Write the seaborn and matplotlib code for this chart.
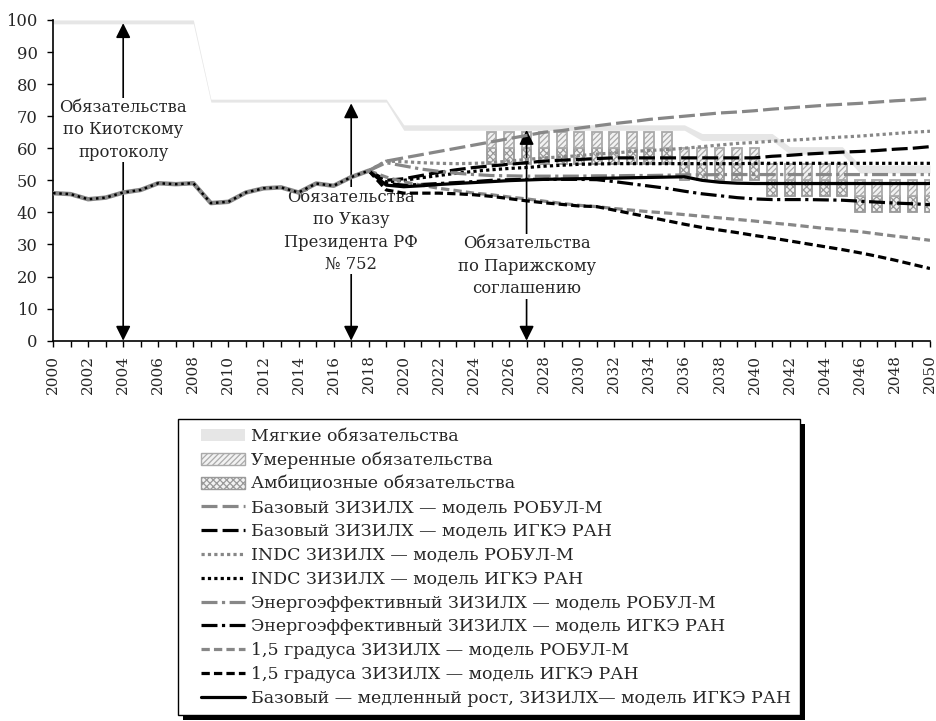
import numpy as np
import pandas as pd
import matplotlib
matplotlib.use("Agg")
import matplotlib.pyplot as plt
import seaborn as sns
from matplotlib.patches import Patch, Rectangle
from matplotlib.lines import Line2D
from matplotlib.legend_handler import HandlerLine2D, HandlerPatch

# ---- data ----
hist_years = list(range(2000, 2019))
hist_values = [46.0, 45.7, 44.1, 44.6, 46.2, 47.0, 49.1, 48.8, 49.1, 42.9,
               43.3, 46.2, 47.5, 47.8, 46.2, 49.0, 48.3, 51.0, 53.0]

proj_years = list(range(2018, 2051))
base_robul = [53, 56, 57, 58, 59, 60, 61, 62, 63, 64, 65, 65.5, 66.3, 67, 67.7, 68.3, 69,
              69.5, 70, 70.5, 71, 71.3, 71.7, 72.2, 72.6, 73, 73.4, 73.7, 74, 74.4, 74.8, 75.1, 75.5]
base_igke = [53, 50, 50.5, 51.5, 52.5, 53.3, 54, 54.5, 55, 55.5, 56, 56.3, 56.5, 56.8, 57, 57, 57,
             57, 57, 57, 57, 57, 57, 57.5, 57.8, 58.2, 58.5, 58.8, 59, 59.3, 59.7, 60, 60.5]
indc_robul = [53, 56, 55.8, 55.5, 55.3, 55.2, 55.3, 55.5, 56, 56.5, 57, 57.3, 57.7, 58.2, 58.5, 59, 59.3,
              59.6, 60, 60.5, 61, 61.5, 61.8, 62.2, 62.5, 62.8, 63.2, 63.5, 63.8, 64.2, 64.6, 65, 65.3]
indc_igke = [53, 49.5, 50, 50.8, 51.5, 52.2, 52.8, 53.3, 53.7, 54, 54.4, 54.7, 55, 55.1, 55.2, 55.2, 55.2,
             55.2, 55.2, 55.2, 55.2, 55.2, 55.3, 55.3, 55.3, 55.3, 55.3, 55.3, 55.3, 55.3, 55.3, 55.3, 55.3]
eff_robul = [53, 55.5, 54.5, 53.5, 52.8, 52.2, 51.8, 51.5, 51.4, 51.3, 51.3, 51.3, 51.3, 51.4, 51.4, 51.5, 51.5,
             51.6, 51.7, 51.7, 51.8, 51.8, 51.8, 51.8, 51.8, 51.8, 51.8, 51.8, 51.8, 51.8, 51.8, 51.8, 51.8]
eff_igke = [53, 49, 48.5, 48.7, 49, 49.3, 49.6, 50, 50.2, 50.3, 50.3, 50.3, 50.3, 50.2, 49.6, 48.9, 48.2,
            47.5, 46.6, 45.8, 45.2, 44.6, 44.2, 44.0, 44.0, 44.0, 43.9, 43.8, 43.5, 43.2, 42.9, 42.7, 42.4]
deg15_robul = [53, 51, 49.5, 48.5, 47.5, 46.8, 46, 45.5, 44.8, 44.2, 43.5, 42.8, 42.2, 41.8, 41.2, 40.7, 40.2,
               39.8, 39.3, 38.8, 38.3, 37.8, 37.3, 36.7, 36.2, 35.6, 35, 34.5, 34, 33.3, 32.6, 32, 31.3]
deg15_igke = [53, 47, 46, 46, 46, 45.8, 45.5, 45, 44.3, 43.6, 43, 42.5, 42, 41.8, 40.7, 39.6, 38.5,
              37.4, 36.3, 35.3, 34.5, 33.7, 32.8, 32, 31.1, 30.2, 29.3, 28.4, 27.4, 26.3, 25.1, 23.8, 22.5]
slow_igke = [53, 48.5, 48, 48.3, 48.7, 49, 49.3, 49.6, 49.9, 50.1, 50.3, 50.4, 50.5, 50.6, 50.7, 50.8, 50.9,
             51, 51.1, 50, 49.4, 49.1, 49, 49, 49, 49, 49, 49, 49, 49, 49, 49, 49]

# soft commitments band (low / high), every year 2000-2050
soft_years = list(range(2000, 2051))
soft_low = [98.8] * 9 + [74.4] * 11 + [65.6] * 17 + [62.4] * 5 + [58.2] * 4 + [52.3] * 5
soft_high = [100] * 9 + [75.3] * 11 + [67.3] * 17 + [64.6] * 5 + [60.5] * 4 + [54.8] * 5

# moderate / ambitious commitment bars
bar_years = list(range(2025, 2051))
amb_low = [55, 55, 55, 55, 55, 55, 55, 55, 55, 55, 55, 50, 50, 50, 50, 50,
           45, 45, 45, 45, 45, 40, 40, 40, 40, 40]
amb_high = [60, 60, 60, 60, 60, 60, 60, 60, 60, 60, 60, 55, 55, 55, 55, 55,
            50, 50, 50, 50, 50, 45, 45, 45, 45, 45]
mod_high = [65, 65, 65, 65, 65, 65, 65, 65, 65, 65, 65, 60, 60, 60, 60, 60,
            55, 55, 55, 55, 55, 50, 50, 50, 50, 50]

GRAY = "#878787"
series = [
    ("Базовый ЗИЗИЛХ — модель РОБУЛ-М", base_robul, GRAY, (0, (5, 1.6))),
    ("Базовый ЗИЗИЛХ — модель ИГКЭ РАН", base_igke, "black", (0, (5, 1.6))),
    ("INDC ЗИЗИЛХ — модель РОБУЛ-М", indc_robul, GRAY, (0, (1, 1))),
    ("INDC ЗИЗИЛХ — модель ИГКЭ РАН", indc_igke, "black", (0, (1, 1))),
    ("Энергоэффективный ЗИЗИЛХ — модель РОБУЛ-М", eff_robul, GRAY, (0, (5, 1.4, 1, 1.4))),
    ("Энергоэффективный ЗИЗИЛХ — модель ИГКЭ РАН", eff_igke, "black", (0, (5, 1.4, 1, 1.4))),
    ("1,5 градуса ЗИЗИЛХ — модель РОБУЛ-М", deg15_robul, GRAY, (0, (2.6, 1.3))),
    ("1,5 градуса ЗИЗИЛХ — модель ИГКЭ РАН", deg15_igke, "black", (0, (2.6, 1.3))),
    ("Базовый — медленный рост, ЗИЗИЛХ— модель ИГКЭ РАН", slow_igke, "black", "-"),
]

sns.set_style("white")
plt.rcParams["font.family"] = ["DejaVu Serif"]
plt.rcParams["hatch.linewidth"] = 0.9

fig = plt.figure(figsize=(9.37, 7.21), dpi=100)
ax = fig.add_axes([0.0566, 0.5275, 0.9359, 0.4448])

# soft commitments
ax.fill_between(soft_years, soft_low, soft_high, color="#e6e6e6", lw=0, zorder=1)

# bars: ambitious (cross-hatched) below, moderate (hatched) above
amb_h = np.array(amb_high) - np.array(amb_low)
mod_h = np.array(mod_high) - np.array(amb_high)
ax.bar(bar_years, amb_h, bottom=amb_low, width=0.56, color="#f2f2f2",
       edgecolor="#999999", hatch="xxxxx", lw=1.3, zorder=2)
ax.bar(bar_years, mod_h, bottom=amb_high, width=0.56, color="#f2f2f2",
       edgecolor="#aaaaaa", hatch="//////", lw=1.3, zorder=2)

# scenario lines
for name, vals, col, ls in series:
    sns.lineplot(x=proj_years, y=vals, color=col, linestyle=ls, linewidth=2.3,
                 ax=ax, legend=False, zorder=7)

# history: overlapping gray and black dotted lines
sns.lineplot(x=hist_years, y=hist_values, color=GRAY, linewidth=3.2, ax=ax, legend=False, zorder=7)
sns.lineplot(x=hist_years, y=hist_values, color="black", linestyle=(0, (1, 1.5)),
             linewidth=1.8, ax=ax, legend=False, zorder=8)

# commitment arrows
arrows = [
    (2004, 99, 65.7, "Обязательства\nпо Киотскому\nпротоколу"),
    (2017, 74, 34.2, "Обязательства\nпо Указу\nПрезидента РФ\n№ 752"),
    (2027, 65.7, 23.2, "Обязательства\nпо Парижскому\nсоглашению"),
]
for x, top, ty, label in arrows:
    ax.annotate("", xy=(x, top), xytext=(x, 0),
                arrowprops=dict(arrowstyle="<|-|>", color="black", lw=1.2,
                                mutation_scale=22, shrinkA=0, shrinkB=0), zorder=5)
    ax.text(x, ty, label, ha="center", va="center", fontsize=11.8, linespacing=1.42,
            bbox=dict(facecolor="white", edgecolor="none", pad=1), zorder=6)

ax.set_xlim(2000, 2050)
ax.set_ylim(0, 100)
ax.set_yticks(range(0, 101, 10))
ax.set_xticks(range(2000, 2051, 2))
ax.set_xticks(range(2000, 2051), minor=True)
ax.tick_params(axis="x", which="both", direction="out", length=4, width=1, color="black",
               bottom=True, labelrotation=90, labelsize=11, pad=6)
ax.tick_params(axis="y", direction="out", length=4, width=1, color="black", left=True,
               labelsize=11.8, pad=7)
ax.set_xlabel("")
ax.set_ylabel("")
sns.despine(ax=ax)
for sp in ["left", "bottom"]:
    ax.spines[sp].set_color("black")
    ax.spines[sp].set_linewidth(1.2)

# legend
handles = [
    Patch(facecolor="#e6e6e6", edgecolor="none", label="Мягкие обязательства"),
    Patch(facecolor="#f2f2f2", edgecolor="#aaaaaa", hatch="//////", label="Умеренные обязательства"),
    Patch(facecolor="#f2f2f2", edgecolor="#999999", hatch="xxxxx", label="Амбициозные обязательства"),
]
for name, vals, col, ls in series:
    handles.append(Line2D([], [], color=col, linestyle=ls, linewidth=2.3, label=name))

hmap = {Line2D: HandlerLine2D(xpad=0.85), Patch: HandlerPatch(xpad=0.85)}
leg = fig.legend(handles=handles, handler_map=hmap, loc="upper left",
                 bbox_to_anchor=(178 / 937, 1 - 419 / 721),
                 frameon=True, fancybox=False, framealpha=1, edgecolor="black",
                 fontsize=12.5, handlelength=3.35, handletextpad=0.35, labelspacing=0.39,
                 borderpad=0.5, borderaxespad=0)
leg.get_frame().set_linewidth(1.0)

fig.canvas.draw()
bb = leg.get_window_extent().transformed(fig.transFigure.inverted())
fig.patches.append(Rectangle((bb.x0 + 5 / 937, bb.y0 - 5 / 721), bb.width, bb.height,
                             transform=fig.transFigure, facecolor="black", edgecolor="none",
                             zorder=4, figure=fig))

fig.savefig("out.png", dpi=100)
